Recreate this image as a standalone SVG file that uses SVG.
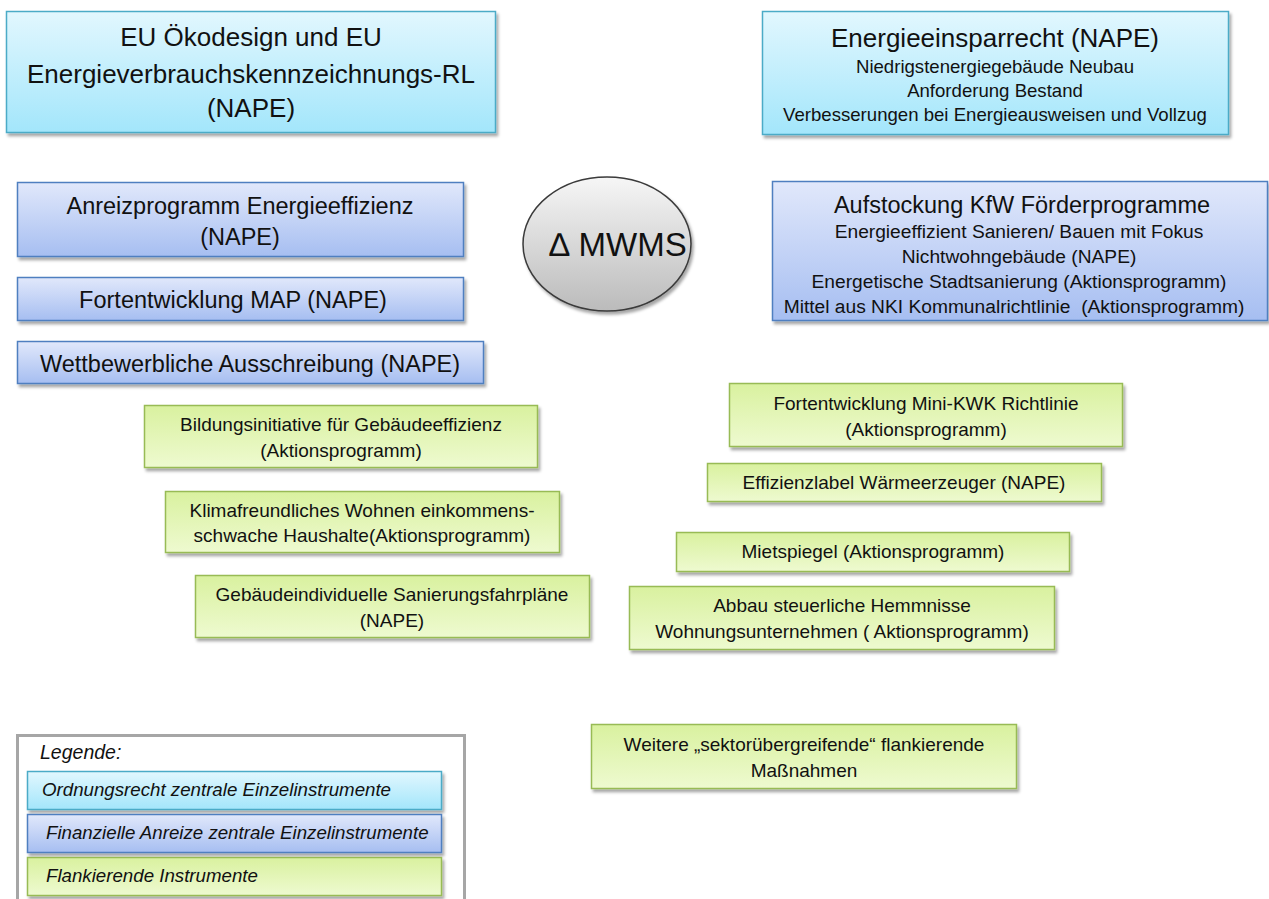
<svg xmlns="http://www.w3.org/2000/svg" width="1269" height="899" viewBox="0 0 1269 899">
<defs>
<linearGradient id="gCyan" x1="0" y1="0" x2="0" y2="1"><stop offset="0" stop-color="#e2f7fe"/><stop offset="1" stop-color="#a3e6fb"/></linearGradient>
<linearGradient id="gBlue" x1="0" y1="0" x2="0" y2="1"><stop offset="0" stop-color="#e1e8fb"/><stop offset="1" stop-color="#a6bef1"/></linearGradient>
<linearGradient id="gGreen" x1="0" y1="0" x2="0" y2="1"><stop offset="0" stop-color="#d9f19f"/><stop offset="1" stop-color="#eefad0"/></linearGradient>
<linearGradient id="gGray" x1="0" y1="0" x2="0" y2="1"><stop offset="0" stop-color="#f6f6f6"/><stop offset="1" stop-color="#bbbbbb"/></linearGradient>
<filter id="sh" x="-5%" y="-10%" width="115%" height="130%"><feDropShadow dx="2" dy="3" stdDeviation="1.6" flood-color="#000" flood-opacity="0.35"/></filter>
</defs>
<style>
.cy{fill:url(#gCyan);stroke:#4babc7;stroke-width:1.5}
.bl{fill:url(#gBlue);stroke:#4f7fc0;stroke-width:1.5}
.gr{fill:url(#gGreen);stroke:#98bb55;stroke-width:1.5}
text{font-family:"Liberation Sans",Arial,sans-serif;fill:#111;text-anchor:middle}
.t1{font-size:26px}
.t2{font-size:23.5px}
.s2{font-size:18.6px}
.s6{font-size:19.2px}
.g{font-size:19px}
.it{font-style:italic;text-anchor:start;font-size:18.7px}
</style>
<rect width="1269" height="899" fill="#fff"/>

<g id="n-eu-oekodesign">
<rect class="cy" x="6.5" y="11.5" width="489" height="121" filter="url(#sh)"/>
<text class="t1" x="251" y="46">EU Ökodesign und EU</text>
<text class="t1" x="251" y="83">Energieverbrauchskennzeichnungs-RL</text>
<text class="t1" x="251" y="117">(NAPE)</text>
</g>

<g id="n-energieeinsparrecht">
<rect class="cy" x="762.5" y="11.5" width="466" height="123" filter="url(#sh)"/>
<text class="t1" x="995" y="47">Energieeinsparrecht (NAPE)</text>
<text class="s2" x="995" y="73">Niedrigstenergiegebäude Neubau</text>
<text class="s2" x="995" y="97">Anforderung Bestand</text>
<text class="s2" x="995" y="121">Verbesserungen bei Energieausweisen und Vollzug</text>
</g>

<g id="n-anreizprogramm">
<rect class="bl" x="17.5" y="182.5" width="446" height="74" filter="url(#sh)"/>
<text class="t2" x="240" y="214">Anreizprogramm Energieeffizienz</text>
<text class="t2" x="240" y="245">(NAPE)</text>
</g>

<g id="n-map">
<rect class="bl" x="17.5" y="277.5" width="446" height="43" filter="url(#sh)"/>
<text class="t2" x="233" y="308">Fortentwicklung MAP (NAPE)</text>
</g>

<g id="n-wettbewerb">
<rect class="bl" x="17.5" y="341.5" width="466" height="42" filter="url(#sh)"/>
<text class="t2" x="250" y="372">Wettbewerbliche Ausschreibung (NAPE)</text>
</g>

<g id="n-mwms">
<ellipse cx="607" cy="244" rx="84" ry="67" fill="url(#gGray)" stroke="#3a3a3a" stroke-width="1.5" filter="url(#sh)"/>
<text x="618" y="256" font-size="33">∆ MWMS</text>
</g>

<g id="n-kfw">
<rect class="bl" x="772.5" y="181.5" width="495" height="139" filter="url(#sh)"/>
<text class="t2" x="1022" y="213">Aufstockung KfW Förderprogramme</text>
<text class="s6" x="1019" y="238">Energieeffizient Sanieren/ Bauen mit Fokus</text>
<text class="s6" x="1019" y="263">Nichtwohngebäude (NAPE)</text>
<text class="s6" x="1019" y="288">Energetische Stadtsanierung (Aktionsprogramm)</text>
<text class="s6" x="1014" y="313" xml:space="preserve">Mittel aus NKI Kommunalrichtlinie  (Aktionsprogramm)</text>
</g>

<g id="n-bildung">
<rect class="gr" x="144.5" y="405.5" width="393" height="62" filter="url(#sh)"/>
<text class="g" x="341" y="431">Bildungsinitiative für Gebäudeeffizienz</text>
<text class="g" x="341" y="457">(Aktionsprogramm)</text>
</g>

<g id="n-klima">
<rect class="gr" x="165.5" y="491.5" width="394" height="61" filter="url(#sh)"/>
<text class="g" x="362" y="517">Klimafreundliches Wohnen einkommens-</text>
<text class="g" x="362" y="542">schwache Haushalte(Aktionsprogramm)</text>
</g>

<g id="n-fahrplaene">
<rect class="gr" x="195.5" y="575.5" width="394" height="62" filter="url(#sh)"/>
<text class="g" x="392" y="601">Gebäudeindividuelle Sanierungsfahrpläne</text>
<text class="g" x="392" y="627">(NAPE)</text>
</g>

<g id="n-minikwk">
<rect class="gr" x="729.5" y="383.5" width="393" height="63" filter="url(#sh)"/>
<text class="g" x="926" y="410">Fortentwicklung Mini-KWK Richtlinie</text>
<text class="g" x="926" y="436">(Aktionsprogramm)</text>
</g>

<g id="n-effizienzlabel">
<rect class="gr" x="707.5" y="463.5" width="394" height="38" filter="url(#sh)"/>
<text class="g" x="904" y="489">Effizienzlabel Wärmeerzeuger (NAPE)</text>
</g>

<g id="n-mietspiegel">
<rect class="gr" x="676.5" y="532.5" width="393" height="39" filter="url(#sh)"/>
<text class="g" x="873" y="558">Mietspiegel (Aktionsprogramm)</text>
</g>

<g id="n-abbau">
<rect class="gr" x="629.5" y="586.5" width="425" height="63" filter="url(#sh)"/>
<text class="g" x="842" y="612">Abbau steuerliche Hemmnisse</text>
<text class="g" x="842" y="638">Wohnungsunternehmen ( Aktionsprogramm)</text>
</g>

<g id="n-weitere">
<rect class="gr" x="591.5" y="724.5" width="425" height="64" filter="url(#sh)"/>
<text class="g" x="804" y="751">Weitere „sektorübergreifende“ flankierende</text>
<text class="g" x="804" y="777">Maßnahmen</text>
</g>

<g id="legend">
<rect x="17.5" y="735.5" width="447" height="200" fill="#fff" stroke="#a6a6a6" stroke-width="3"/>
<text class="it" x="40" y="759" style="font-size:19.5px">Legende:</text>
<rect class="cy" x="27.5" y="771.5" width="414" height="38" filter="url(#sh)"/>
<text class="it" x="42" y="796">Ordnungsrecht zentrale Einzelinstrumente</text>
<rect class="bl" x="27.5" y="814.5" width="414" height="38" filter="url(#sh)"/>
<text class="it" x="46" y="839">Finanzielle Anreize zentrale Einzelinstrumente</text>
<rect class="gr" x="27.5" y="857.5" width="414" height="38" filter="url(#sh)"/>
<text class="it" x="46" y="882">Flankierende Instrumente</text>
</g>

<g id="connectors"></g>
</svg>
